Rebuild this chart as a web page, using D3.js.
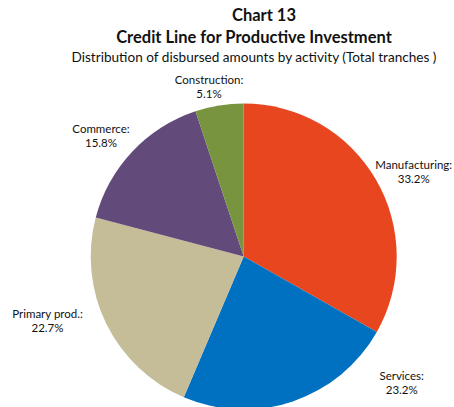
<!DOCTYPE html>
<html>
<head>
<meta charset="utf-8">
<script src="https://cdn.jsdelivr.net/npm/d3@7"></script>
<style>
  html, body { margin: 0; padding: 0; background: #fff; }
  svg { display: block; }
  text { font-family: Lato, "Open Sans", sans-serif; fill: #111; }
</style>
</head>
<body>
<svg id="chart" width="454" height="407"></svg>
<script>
// Activity shares of disbursed amounts, clockwise from 12 o'clock
const activities = ["Manufacturing", "Services", "Primary prod.", "Commerce", "Construction"];
const shares = [33.2, 23.2, 22.7, 15.8, 5.1];
const colors = ["#E8461E", "#0071C1", "#C5BD98", "#624A7A", "#78943E"];

const titleLines = [
  "Chart 13",
  "Credit Line for Productive Investment",
  "Distribution of disbursed amounts by activity (Total tranches )"
];

const W = 454, H = 407;
const cx = 243.7, cy = 256.5, R = 153;

// Label anchors (centre x, first baseline) relative to the pie centre
const labelOffsets = {
  "Manufacturing": [170, -88],
  "Services": [158, 123.5],
  "Primary prod.": [-196.2, 61],
  "Commerce": [-142.7, -123.5],
  "Construction": [-34.7, -172.2]
};

const svg = d3.select("#chart");

// Titles
svg.append("text").attr("x", 264).attr("y", 20.7)
  .attr("text-anchor", "middle").attr("font-weight", "bold").attr("font-size", 16.5)
  .text(titleLines[0]);
svg.append("text").attr("x", 254).attr("y", 42.7)
  .attr("text-anchor", "middle").attr("font-weight", "bold").attr("font-size", 16.5)
  .text(titleLines[1]);
svg.append("text").attr("x", 254).attr("y", 62)
  .attr("text-anchor", "middle").attr("font-size", 13.6)
  .text(titleLines[2]);

const data = activities.map((name, i) => ({ name, value: shares[i], color: colors[i] }));

const pie = d3.pie().sort(null).value(d => d.value)
  .startAngle(0).endAngle(2 * Math.PI);
const arc = d3.arc().innerRadius(0).outerRadius(R);

const g = svg.append("g").attr("transform", `translate(${cx},${cy})`);

g.selectAll("path.slice")
  .data(pie(data))
  .join("path")
  .attr("class", "slice")
  .attr("d", arc)
  .attr("fill", d => d.data.color);

// Category labels with percentages
const lbl = g.selectAll("g.lbl")
  .data(pie(data))
  .join("g")
  .attr("class", "lbl")
  .attr("transform", d => {
    const o = labelOffsets[d.data.name];
    return `translate(${o[0]},${o[1]})`;
  });

lbl.append("text")
  .attr("text-anchor", "middle").attr("font-size", 11.5)
  .text(d => d.data.name + ":");
lbl.append("text")
  .attr("text-anchor", "middle").attr("font-size", 11.5)
  .attr("y", 14)
  .text(d => d3.format(".1f")(d.data.value) + "%");
</script>
</body>
</html>
